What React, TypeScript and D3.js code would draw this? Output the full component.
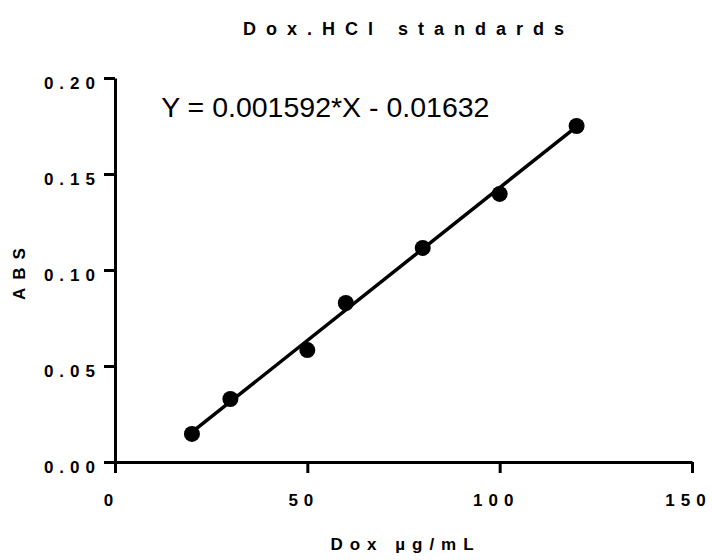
import React, { useRef, useEffect } from 'react';
import * as d3 from 'd3';

// Dox.HCl standard curve
const doses = [20, 30, 50, 60, 80, 100, 120];
const absorbance = [0.0146, 0.0328, 0.0583, 0.0828, 0.1115, 0.1396, 0.175];
const xTicks = [0, 50, 100, 150];
const yTicks = [0, 0.05, 0.1, 0.15, 0.2];
const slope = 0.001592;
const intercept = -0.01632;
const equationLabel = 'Y = 0.001592*X - 0.01632';
const equationAt = { x: 12, y: 0.1797 };

const width = 712;
const height = 560;
const font = '"Liberation Sans", Arial, sans-serif';

const App = () => {
  const ref = useRef<SVGSVGElement>(null);

  useEffect(() => {
    const svg = d3.select(ref.current);
    svg.selectAll('*').remove();

    const margin = { top: 78, right: 20, bottom: 98, left: 115 };
    const innerWidth = width - margin.left - margin.right;
    const innerHeight = height - margin.top - margin.bottom;

    const x = d3.scaleLinear().domain([0, 150]).range([0, innerWidth]);
    const y = d3.scaleLinear().domain([0, 0.2]).range([innerHeight, 0]);

    const g = svg.append('g').attr('transform', `translate(${margin.left},${margin.top})`);

    // axes
    const xAxis = d3.axisBottom(x).tickValues(xTicks).tickSize(11).tickSizeOuter(0).tickPadding(21).tickFormat(d3.format('d'));
    const yAxis = d3.axisLeft(y).tickValues(yTicks).tickSize(11).tickSizeOuter(0).tickPadding(3).tickFormat(d3.format('.2f'));

    const styleAxis = (sel) => {
      sel.select('.domain').attr('stroke', '#000').attr('stroke-width', 3);
      sel.selectAll('.tick line').attr('stroke', '#000').attr('stroke-width', 3);
      sel.selectAll('.tick text')
        .attr('fill', '#000')
        .attr('font-family', font)
        .attr('font-weight', 'bold')
        .attr('font-size', 17)
        .style('letter-spacing', '6px');
    };

    g.append('g').attr('transform', `translate(0,${innerHeight})`).call(xAxis).call(styleAxis)
      .selectAll('.tick text').attr('dx', -4);
    g.append('g').call(yAxis).call(styleAxis).selectAll('.tick text').attr('dy', '0.61em');

    // fit line over the data range
    const [x0, x1] = d3.extent(doses) as [number, number];
    const fit = d3.line<number>().x(d => x(d)).y(d => y(slope * d + intercept));
    g.append('path')
      .datum([x0, x1])
      .attr('fill', 'none')
      .attr('stroke', '#000')
      .attr('stroke-width', 3.5)
      .attr('d', fit);

    // points
    g.selectAll('circle.pt')
      .data(doses)
      .enter()
      .append('circle')
      .attr('class', 'pt')
      .attr('cx', d => x(d))
      .attr('cy', (d, i) => y(absorbance[i]))
      .attr('r', 8)
      .attr('fill', '#000');

    // equation
    g.append('text')
      .attr('x', x(equationAt.x))
      .attr('y', y(equationAt.y))
      .attr('font-family', font)
      .attr('font-size', 28.5)
      .attr('fill', '#000')
      .text(equationLabel);

    // title
    svg.append('text')
      .attr('x', margin.left + innerWidth / 2 + 5)
      .attr('y', 35)
      .attr('text-anchor', 'middle')
      .attr('font-family', font)
      .attr('font-weight', 'bold')
      .attr('font-size', 18)
      .style('letter-spacing', '10px')
      .text('Dox.HCl standards');

    // axis titles
    svg.append('text')
      .attr('x', margin.left + innerWidth / 2 + 2)
      .attr('y', 550)
      .attr('text-anchor', 'middle')
      .attr('font-family', font)
      .attr('font-weight', 'bold')
      .attr('font-size', 17)
      .style('letter-spacing', '7px')
      .style('white-space', 'pre')
      .text('Dox µg/mL');

    svg.append('text')
      .attr('transform', `translate(25,${margin.top + innerHeight / 2}) rotate(-90)`)
      .attr('text-anchor', 'middle')
      .attr('font-family', font)
      .attr('font-weight', 'bold')
      .attr('font-size', 17)
      .style('letter-spacing', '8px')
      .text('ABS');
  }, []);

  return (
    <div style={{ position: 'absolute', left: 0, top: 0 }}>
      <svg ref={ref} width={width} height={height} style={{ display: 'block', background: '#fff' }} />
    </div>
  );
};

export default App;
